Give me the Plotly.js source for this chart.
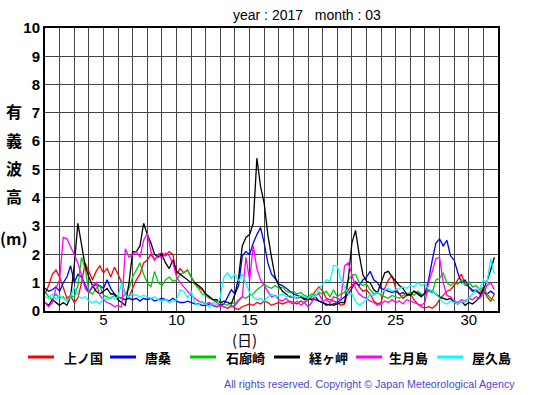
<!DOCTYPE html>
<html><head><meta charset="utf-8">
<script src="https://cdn.plot.ly/plotly-3.0.1.min.js"></script>
<style>html,body{margin:0;padding:0;background:#fff}#chart{width:555px;height:395px}</style>
</head><body><div id="chart"></div>
<script>
// Six-hourly significant wave height (m), March 2017, 4 values per day (00,06,12,18h)
const stepsPerDay = 4;
const firstDay = 1;

const kaminokuni = [ // 上ノ国 (red)
 0.6,0.9,1.3,1.45, 1.2,0.85,0.45,0.55, 0.3,0.45,1.0,1.7, 1.4,1.1,1.4,1.6,
 1.35,1.5,1.2,1.55, 1.3,1.0,0.6,0.5, 0.8,1.1,1.3,1.7, 1.8,2.0,1.8,2.0,
 2.05,1.95,2.1,2.0, 1.3,1.5,1.35,1.45, 1.2,1.0,0.85,0.75, 0.6,0.5,0.4,0.3,
 0.2,0.15,0.1,0.2, 0.1,0.05,0.15,0.2, 0.25,0.2,0.3,0.25, 0.35,0.3,0.2,0.25,
 0.3,0.25,0.3,0.35, 0.3,0.25,0.35,0.3, 0.4,0.5,0.7,0.85, 0.7,0.45,0.4,0.35,
 0.3,0.2,0.25,0.75, 0.9,1.05,0.85,0.7, 0.75,0.6,0.35,0.25, 0.3,0.8,1.1,1.25,
 0.8,0.6,0.45,0.55, 0.6,0.4,0.25,0.15, 0.1,0.15,0.1,0.2, 0.4,0.55,0.7,0.75,
 0.9,1.1,1.3,0.95, 0.85,0.75,0.7,0.65, 0.8,0.5,0.35,0.6];
const karakuwa = [ // 唐桑 (blue)
 0.8,0.7,0.75,0.85, 0.7,1.0,1.2,1.6, 1.0,1.3,1.2,0.9, 0.65,0.85,0.95,0.9,
 0.8,1.1,0.8,0.6, 0.5,0.45,0.4,0.45, 0.4,0.45,0.35,0.45, 0.4,0.45,0.35,0.4,
 0.45,0.4,0.35,0.45, 0.35,0.3,0.3,0.35, 0.3,0.25,0.25,0.2, 0.2,0.25,0.2,0.15,
 0.2,0.25,0.5,0.75, 0.6,0.9,1.95,2.1, 2.0,2.4,2.7,2.95, 2.4,1.7,1.3,1.15,
 0.95,0.9,0.8,0.7, 0.6,0.55,0.5,0.45, 0.45,0.4,0.4,0.35, 0.3,0.25,0.2,0.25,
 0.3,0.4,0.5,0.6, 0.8,1.0,0.9,1.1, 1.2,1.4,1.1,1.0, 0.8,0.75,0.7,0.65,
 0.7,0.6,0.65,0.55, 0.6,0.7,0.65,0.55, 0.6,1.1,1.8,2.4, 2.55,2.3,2.5,1.95,
 1.8,1.35,1.0,1.1, 0.85,0.7,0.75,0.6, 0.65,0.6,0.7,0.6];
const irozaki = [ // 石廊崎 (green)
 0.7,0.5,0.4,0.6, 0.45,0.5,0.35,0.55, 0.5,0.9,1.9,1.5, 0.7,0.6,0.8,0.9,
 0.55,0.5,0.45,0.55, 0.5,0.45,0.6,0.8, 1.2,1.45,1.7,1.3, 1.0,0.85,1.4,1.0,
 0.9,1.1,1.2,1.05, 1.1,1.3,1.35,1.45, 1.2,0.95,0.8,0.6, 0.55,0.45,0.4,0.35,
 0.3,0.25,0.2,0.3, 0.25,0.4,0.5,0.45, 0.55,0.6,0.75,0.85, 0.95,0.85,0.8,0.9,
 0.8,0.85,0.7,0.65, 0.7,0.6,0.65,0.55, 0.5,0.6,0.55,0.65, 0.6,0.7,0.5,0.75,
 0.5,0.6,0.65,1.1, 1.25,1.3,1.0,0.9, 0.95,0.75,0.6,0.65, 0.55,0.5,0.45,0.55,
 0.5,0.45,0.55,0.6, 0.65,0.55,0.7,0.6, 0.55,0.7,0.65,1.1, 1.15,1.35,1.0,0.9,
 1.0,0.95,1.1,0.9, 1.05,0.85,0.9,0.75, 0.85,0.6,0.45,0.35];
const kyogamisaki = [ // 経ヶ岬 (black)
 0.3,0.2,0.4,0.3, 0.2,0.3,0.2,0.5, 1.6,3.1,2.4,1.6, 1.2,0.9,0.7,0.6,
 0.7,0.8,0.6,0.6, 0.4,0.3,0.2,1.0, 2.1,2.1,2.3,3.1, 2.7,2.4,2.0,1.9,
 2.0,1.7,1.5,1.8, 1.4,1.3,1.2,1.1, 1.0,1.0,0.9,0.8, 0.6,0.5,0.4,0.4,
 0.3,0.35,0.3,0.25, 0.6,1.2,2.3,2.6, 2.7,3.1,5.4,4.4, 3.8,2.7,1.9,1.2,
 0.9,0.7,0.6,0.5, 0.5,0.45,0.5,0.4, 0.45,0.4,0.5,0.35, 0.3,0.2,0.25,0.2,
 0.25,0.3,0.3,1.1, 2.4,2.85,2.0,1.3, 1.05,1.0,0.75,0.65, 1.0,1.35,1.4,1.2,
 1.05,0.9,0.8,0.6, 0.55,0.7,0.6,0.5, 0.65,0.75,0.7,0.6, 0.5,0.45,0.4,0.45,
 0.3,0.25,0.35,0.2, 0.3,0.25,0.35,0.5, 0.8,1.05,1.45,1.9];
const ikitsukishima = [ // 生月島 (magenta)
 0.3,0.15,0.3,0.8, 1.1,2.6,2.55,2.3, 2.0,1.7,1.2,0.8, 0.65,0.9,1.0,0.55,
 0.4,0.3,0.25,0.15, 0.2,0.15,2.2,1.9, 2.0,2.1,1.9,2.5, 2.75,2.1,1.8,2.0,
 1.85,2.05,1.95,1.7, 1.2,1.0,0.85,0.7, 0.55,0.45,0.35,0.3, 0.25,0.3,0.2,0.15,
 0.2,0.15,0.1,0.15, 0.2,0.35,0.5,1.9, 1.1,2.3,1.5,1.1, 0.9,0.7,0.5,0.55,
 0.4,0.35,0.45,0.3, 0.25,0.35,0.2,0.3, 0.15,0.3,0.55,0.6, 0.35,0.4,0.3,0.5,
 0.45,0.4,1.6,1.7, 1.3,0.8,0.6,0.5, 0.45,0.35,0.3,0.2, 0.25,0.35,0.3,0.4,
 0.3,0.35,0.25,0.4, 0.35,0.3,0.25,0.2, 0.3,1.0,1.4,1.85, 1.9,1.0,0.55,0.5,
 0.35,0.3,0.4,0.35, 0.45,0.4,0.5,0.45, 0.6,0.9,1.0,0.75];
const yakushima = [ // 屋久島 (cyan)
 0.5,0.45,0.6,0.4, 0.55,0.45,0.35,0.5, 0.85,0.55,0.45,0.5, 0.35,0.3,0.35,0.25,
 0.45,0.4,0.5,0.45, 0.5,1.0,0.55,0.5, 0.6,0.55,0.5,0.55, 0.5,0.45,0.5,0.4,
 0.35,0.4,0.3,0.35, 0.4,0.75,0.7,0.45, 0.7,0.3,0.2,0.35, 0.25,0.15,0.3,0.2,
 0.5,1.2,1.35,1.15, 1.3,1.05,1.3,0.95, 0.65,0.5,0.4,0.45, 0.35,0.5,0.6,0.5,
 0.55,0.6,0.5,0.55, 0.5,0.45,0.55,0.5, 0.45,0.55,0.5,0.75, 0.95,1.1,1.05,1.6,
 1.6,1.1,0.85,0.6, 0.6,0.35,0.2,0.3, 0.4,0.6,0.55,0.65, 0.6,0.75,0.8,0.7,
 0.75,0.8,0.85,0.8, 0.9,0.85,1.0,0.9, 0.95,0.75,0.7,0.6, 0.45,0.3,0.25,0.35,
 0.3,0.25,0.35,0.3, 0.45,0.6,0.75,0.8, 1.1,1.0,1.85,1.3];

const stationNames = ['上ノ国','唐桑','石廊崎','経ヶ岬','生月島','屋久島'];
const stationColors = ['#ff0000','#0000ff','#00c800','#000000','#ff00ff','#00ffff'];
const seriesList = [kaminokuni, karakuwa, irozaki, kyogamisaki, ikitsukishima, yakushima];
const yTickVals = [0,1,2,3,4,5,6,7,8,9,10];
const xTickVals = [5,10,15,20,25,30];

// pixel helpers for decorations
const L=45, R=57, T=28, B=84, W=555, H=395;
const PW=W-L-R, PH=H-T-B;
const px=x=>(x-L)/PW, py=y=>(H-B-y)/PH;

const traces = seriesList.map((vals,k)=>({
  type:'scatter', mode:'lines',
  x: vals.map((_,i)=>firstDay + i/stepsPerDay),
  y: vals,
  line:{color:stationColors[k], width:1.3},
  name: stationNames[k], showlegend:false, hoverinfo:'skip'
}));

const annotations = [];
const shapes = [];
const fontJP = '"Noto Sans CJK JP", "Noto Sans", sans-serif';
// title
annotations.push({xref:'paper',yref:'paper',x:px(307),y:py(15),text:'year : 2017\u00a0\u00a0\u00a0month : 03',showarrow:false,
  font:{family:'Liberation Sans, Arial, sans-serif',size:14,color:'#000'},xanchor:'center',yanchor:'middle'});
// y-title stacked
const yChars = [['有',111],['義',140],['波',168],['高',196],['(m)',238]];
yChars.forEach(([c,y])=>annotations.push({xref:'paper',yref:'paper',x:px(13.5),y:py(y),text:c,showarrow:false,
  font:{family:fontJP,size:16,color:'#000',weight:'bold'},xanchor:'center',yanchor:'middle'}));
// x-title
annotations.push({xref:'paper',yref:'paper',x:px(244),y:py(339),text:'(日)',showarrow:false,
  font:{family:fontJP,size:15,color:'#000'},xanchor:'center',yanchor:'middle'});
// legend
const legLines=[28,110,190,274,356,437];
const legText=[62,143,224,307,387,470];
stationNames.forEach((n,k)=>{
  shapes.push({type:'line',xref:'paper',yref:'paper',x0:px(legLines[k]),x1:px(legLines[k]+26),y0:py(357),y1:py(357),
    line:{color:stationColors[k],width:3}});
  annotations.push({xref:'paper',yref:'paper',x:px(legText[k]),y:py(357),text:n,showarrow:false,
    font:{family:fontJP,size:13,color:'#000',weight:'bold'},xanchor:'left',yanchor:'middle'});
});
// copyright
annotations.push({xref:'paper',yref:'paper',x:px(517),y:py(384),text:'All rights reserved. Copyright © Japan Meteorological Agency',showarrow:false,
  font:{family:'Liberation Sans, Arial, sans-serif',size:10.7,color:'#4a4acc'},xanchor:'right',yanchor:'middle'});

const layout = {
  width:W, height:H, margin:{l:L,r:R,t:T,b:B},
  paper_bgcolor:'#fff', plot_bgcolor:'#fff', showlegend:false,
  xaxis:{range:[1,32], tickvals:xTickVals, ticks:'', showgrid:true, gridcolor:'#444', gridwidth:1,
    minor:{dtick:1, tick0:0, showgrid:true, gridcolor:'#444', gridwidth:1},
    showline:true, mirror:true, linecolor:'#000', linewidth:2, zeroline:false, ticklabelstandoff:-6,
    tickfont:{family:'Liberation Sans, Arial, sans-serif',size:15,color:'#000'}, fixedrange:true},
  yaxis:{range:[0,10], tickvals:yTickVals, ticks:'', showgrid:true, gridcolor:'#444', gridwidth:1,
    showline:true, mirror:true, linecolor:'#000', linewidth:2, zeroline:false,
    tickfont:{family:'Liberation Sans, Arial, sans-serif',size:15,color:'#000',weight:'bold'}, fixedrange:true},
  annotations, shapes, hovermode:false
};
Plotly.newPlot('chart', traces, layout, {displayModeBar:false, staticPlot:true});
</script></body></html>
